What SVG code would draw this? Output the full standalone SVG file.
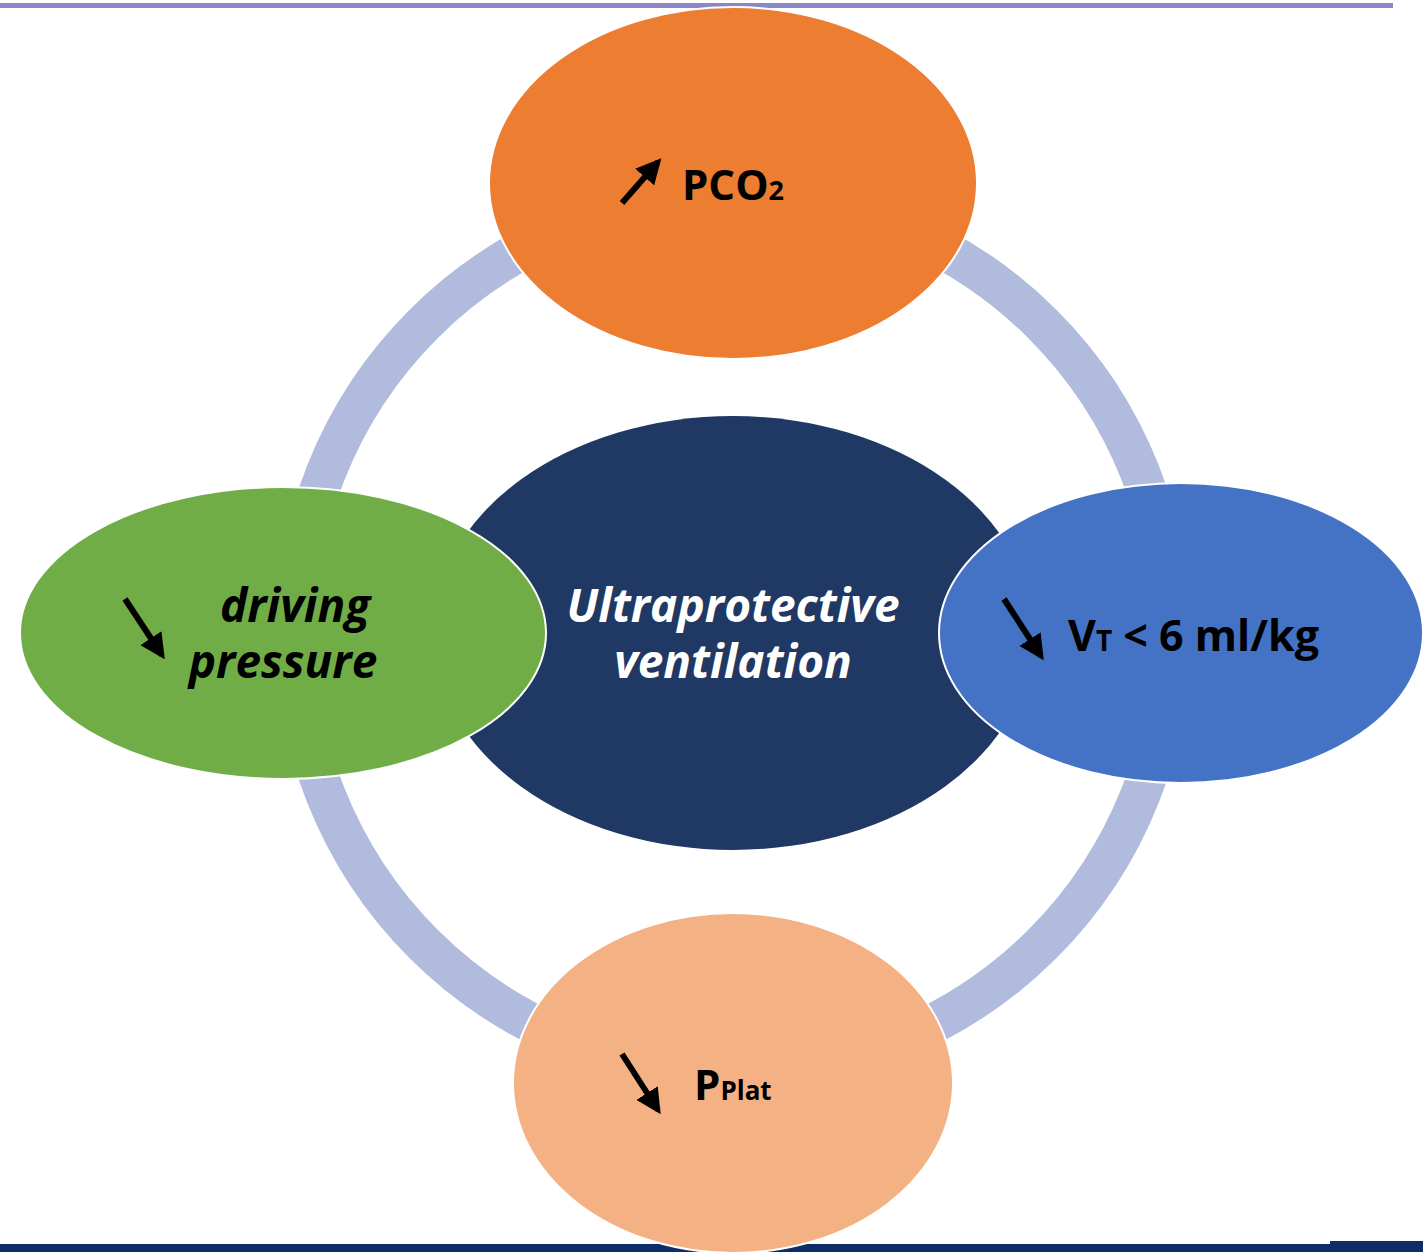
<svg xmlns="http://www.w3.org/2000/svg" width="1423" height="1252" viewBox="0 0 1423 1252">
<style>
.lbl{font-family:"Open Sans","Noto Sans","Liberation Sans",sans-serif;font-weight:bold;fill:#000}
.it{font-style:italic;font-size:46px}
.w{fill:#fff}
.arr{stroke:#000;stroke-width:6;fill:none}
.ell{stroke:#fff;stroke-width:2}
</style>
<defs>
<marker id="ah" viewBox="0 0 10 10" refX="8" refY="5" markerWidth="4.2" markerHeight="4.2" orient="auto" markerUnits="strokeWidth">
<path d="M0,0 L10,5 L0,10 z" fill="#000"/>
</marker>
</defs>
<rect x="0" y="3" width="1393" height="5" fill="#8a86c8"/>
<rect x="0" y="1244" width="1423" height="8" fill="#0c2d66"/>
<rect x="1330" y="1241" width="93" height="4" fill="#0c2d66"/>
<g id="connectors">
<circle cx="733" cy="634" r="438" fill="none" stroke="#b0bbdd" stroke-width="40"/>
</g>
<g id="center">
<ellipse cx="733" cy="633" rx="300" ry="217" fill="#203864"/>
<text class="lbl it w" x="733" y="622" text-anchor="middle">Ultraprotective</text>
<text class="lbl it w" x="733" y="678" text-anchor="middle">ventilation</text>
</g>
<g id="pco2">
<ellipse class="ell" cx="733" cy="183" rx="244" ry="176" fill="#ed7d31"/>
<line class="arr" x1="622" y1="203" x2="658" y2="162" marker-end="url(#ah)"/>
<text class="lbl" x="682" y="200" font-size="42">PCO<tspan font-size="27">2</tspan></text>
</g>
<g id="driving">
<ellipse class="ell" cx="283" cy="633" rx="263" ry="146" fill="#70ad47"/>
<line class="arr" x1="125" y1="599" x2="162" y2="655" marker-end="url(#ah)"/>
<text class="lbl it" x="295" y="622" text-anchor="middle">driving</text>
<text class="lbl it" x="283" y="678" text-anchor="middle">pressure</text>
</g>
<g id="vt">
<ellipse class="ell" cx="1181" cy="633" rx="242" ry="150" fill="#4472c4"/>
<line class="arr" x1="1004" y1="599" x2="1041" y2="656" marker-end="url(#ah)"/>
<text class="lbl" x="1068" y="651" font-size="43">V<tspan font-size="28">T</tspan> &lt; 6 ml/kg</text>
</g>
<g id="pplat">
<ellipse class="ell" cx="733" cy="1083" rx="220" ry="170" fill="#f4b183"/>
<line class="arr" x1="622" y1="1054" x2="658" y2="1110" marker-end="url(#ah)"/>
<text class="lbl" x="694" y="1100" font-size="42">P<tspan font-size="26">Plat</tspan></text>
</g>
</svg>
